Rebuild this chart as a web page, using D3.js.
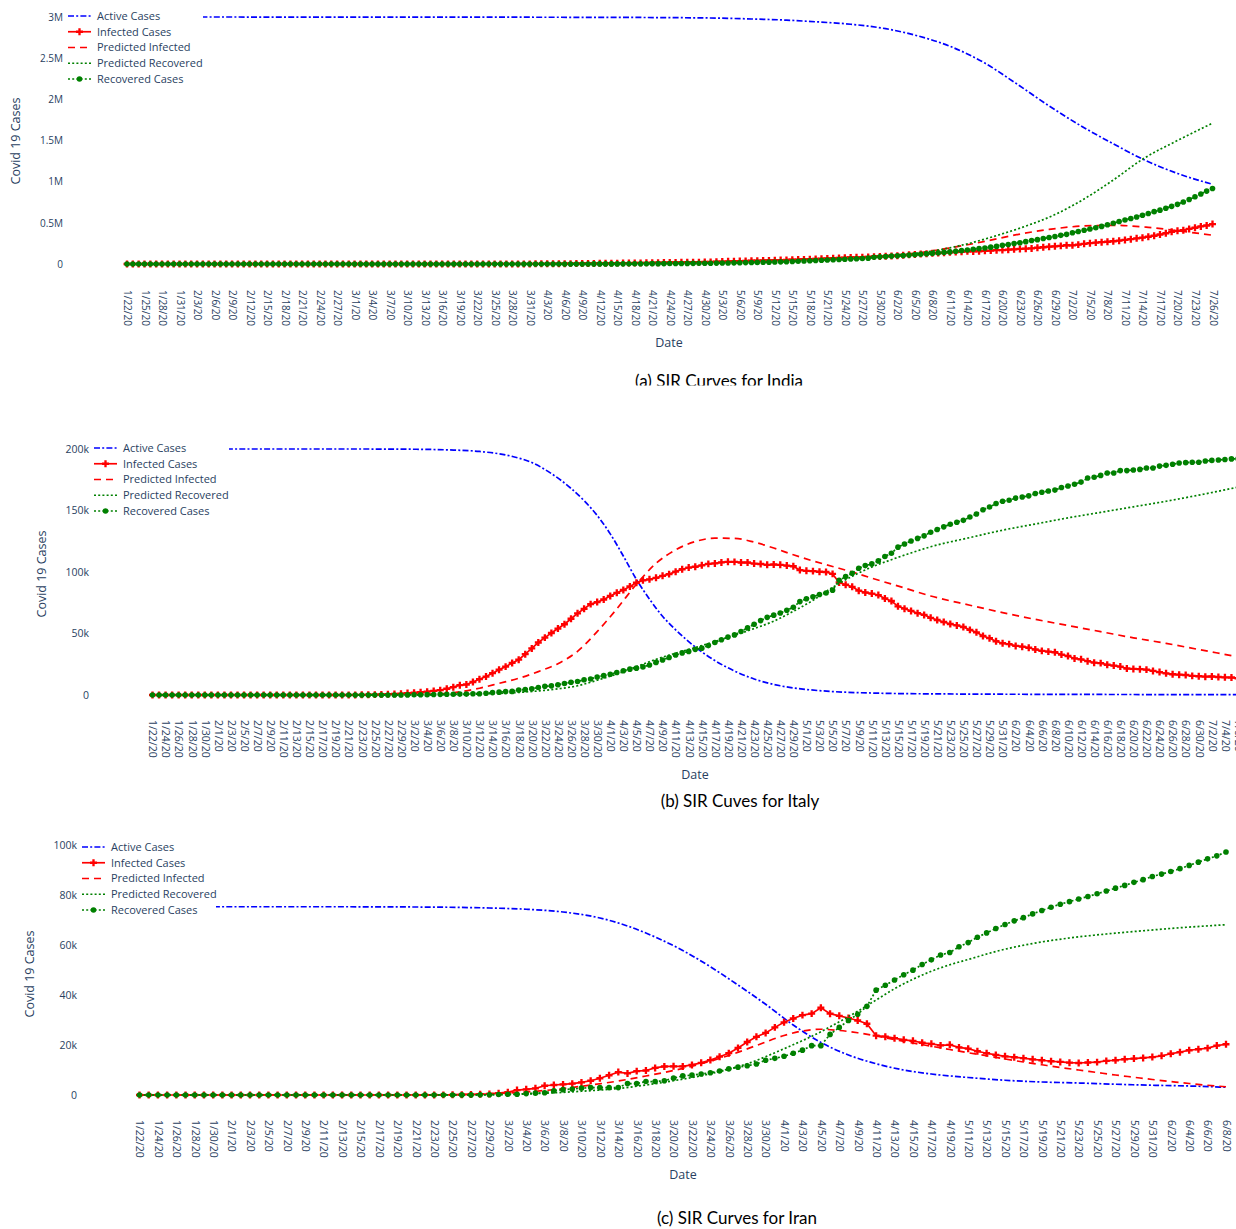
<!DOCTYPE html>
<html>
<head>
<meta charset="utf-8">
<script src="https://cdn.jsdelivr.net/npm/d3@7"></script>
<style>
  body { margin: 0; background: #fff; }
  svg { display: block; }
</style>
</head>
<body>
<svg id="chart" width="1236" height="1229"></svg>
<script>
// ---------- data (values in thousands) ----------

// date categories: start/end of each consecutive run
const indiaDateRuns = [["1/22/20", "7/26/20"]];
const italyDateRuns = [["1/22/20", "7/6/20"]];
const iranDateRuns = [["1/22/20", "4/20/20"], ["5/11/20", "6/8/20"]];

const legendNames = ["Active Cases", "Infected Cases", "Predicted Infected", "Predicted Recovered", "Recovered Cases"];

const indiaYTicks = [0, 500, 1000, 1500, 2000, 2500, 3000];
const indiaYLabels = ["0", "0.5M", "1M", "1.5M", "2M", "2.5M", "3M"];
const italyYTicks = [0, 50, 100, 150, 200];
const italyYLabels = ["0", "50k", "100k", "150k", "200k"];
const iranYTicks = [0, 20, 40, 60, 80, 100];
const iranYLabels = ["0", "20k", "40k", "60k", "80k", "100k"];

// India, one value per day
const indiaInfected = [
  0,0,0,0,0,0,0,0,0,0, 0,0,0,0,0,0,0,0,0,0, 0,0,0,0,0,0,0,0,0,0, 0,0,0,0,0,0,0,0,0,
  0, 0.002, 0.003, 0.025, 0.027, 0.028, 0.031, 0.036, 0.04, 0.05, 0.06, 0.063, 0.07, 0.08, 0.1, 0.11,
  0.123, 0.134, 0.176, 0.22, 0.3, 0.365, 0.42, 0.47, 0.6, 0.64, 0.8, 0.88, 0.94, 1.1, 1.24,
  1.85, 2.2, 2.6, 3.1, 3.8, 4.1, 4.6, 5.2, 5.7, 6.5, 7.0, 7.9, 8.5, 9.2, 10.5, 11.2, 11.6, 12.9, 13.3, 14.7,
  15.3, 16.3, 17.3, 18.5, 19.5, 20.5, 21.4, 22.0, 22.6, 24.8,
  25.9, 27.7, 29.3, 32.1, 33.6, 35.9, 37.9, 39.8, 40.9, 42.9, 44.0, 46.0, 47.5, 49.2, 52.8, 53.9,
  56.3, 58.8, 60.9, 63.6, 66.1, 69.6, 73.2, 76.8, 80.0, 80.7, 83.0, 86.4, 89.7, 89.9, 93.3,
  97.6, 101.5, 106.7, 111.9, 116.0, 120.4, 125.4, 129.9, 133.6, 137.5, 141.8, 146.0, 149.4, 153.2, 153.1,
  155.2, 160.4, 163.2, 168.3, 169.5, 174.4, 178.0, 183.0, 186.5, 189.5, 197.4, 203.1, 210.1, 215.1, 220.1,
  227.4, 226.9, 235.4, 244.8, 253.3, 259.6, 264.9, 269.8, 276.7, 283.4, 292.3, 301.6, 311.6, 319.8, 331.1,
  342.8, 358.7, 373.4, 390.5, 402.5, 411.1, 426.2, 440.1, 456.1, 467.9, 485.1
];
const indiaRecovered = [
  0,0,0,0,0,0,0,0,0,0, 0,0,0,0,0,0,0,0,0,0, 0,0,0,0,0,0,0,0,0,0, 0,0,0,0,0,0,0,0,0,
  0.003, 0.003, 0.003, 0.003, 0.003, 0.003, 0.003, 0.004, 0.004, 0.004, 0.004, 0.004, 0.004, 0.01, 0.013, 0.014,
  0.014, 0.014, 0.015, 0.02, 0.023, 0.027, 0.04, 0.043, 0.045, 0.073, 0.084, 0.095, 0.102, 0.123, 0.148,
  0.15, 0.19, 0.23, 0.27, 0.33, 0.35, 0.41, 0.47, 0.6, 0.78, 0.97, 1.0, 1.19, 1.34, 1.43, 1.77, 2.04, 2.46, 2.85, 3.27,
  3.98, 4.37, 5.01, 5.5, 5.94, 6.52, 7.14, 7.75, 8.44, 8.89,
  9.95, 10.9, 11.8, 12.8, 14.1, 15.3, 16.8, 17.9, 19.4, 22.0, 22.5, 24.4, 26.4, 27.9, 30.3, 34.2,
  36.8, 39.2, 42.3, 45.3, 48.5, 51.8, 54.4, 57.7, 60.7, 64.3, 67.7, 71.1, 82.6, 86.9, 91.9,
  95.8, 100.3, 104.1, 108.4, 113.2, 118.7, 123.8, 129.1, 134.7, 141.0, 147.2, 154.3, 162.4, 169.8, 180.0,
  186.9, 194.3, 204.7, 213.8, 227.7, 237.2, 248.2, 258.7, 271.7, 285.6, 295.9, 309.7, 321.7, 334.8, 347.9,
  359.9, 379.9, 394.2, 409.1, 424.4, 439.9, 456.8, 476.4, 495.5, 515.4, 534.6, 553.5, 571.5, 592.0, 612.8,
  635.8, 653.8, 677.4, 700.1, 724.6, 753.0, 782.6, 817.2, 849.4, 885.6, 917.6
];
// model curves: [day index, value]
const indiaActiveCurve = [[0, 3000], [40, 2999], [80, 2996], [100, 2988], [107, 2976], [113, 2962], [118, 2942],
  [124, 2912], [130, 2858], [135, 2780], [141, 2645], [147, 2440], [152, 2210], [158, 1920], [164, 1655],
  [169, 1460], [174, 1275], [180, 1100], [186, 968]];
const indiaPredInfected = [[0, 0], [60, 0.5], [80, 5], [95, 18], [105, 34], [115, 58], [125, 85], [131, 108],
  [136, 140], [141, 195], [147, 275], [152, 350], [158, 420], [164, 462], [169, 470], [175, 445], [181, 395], [186, 350]];
const indiaPredRecovered = [[0, 0], [70, 0.5], [90, 4], [100, 10], [110, 24], [120, 48], [128, 80], [134, 120],
  [139, 170], [144, 245], [149, 345], [154, 460], [159, 600], [164, 790], [169, 1020], [174, 1272], [180, 1500], [186, 1710]];

// Italy, one value per day
const italyInfected = [
  0,0,0,0,0,0,0,0,0,0, 0,0,0,0,0,0,0,0,0,0, 0,0,0,0,0,0,0,0,0,0,
  0.02, 0.06, 0.15, 0.22, 0.31, 0.41, 0.59, 0.82, 1.05,
  1.58, 1.84, 2.26, 2.71, 3.30, 3.92, 5.06, 6.39, 7.99, 8.51, 10.59, 12.84, 14.96, 17.75, 20.60, 23.07,
  26.06, 28.71, 33.19, 37.86, 42.68, 46.64, 50.42, 54.03, 57.52, 62.01, 66.41, 70.07, 73.88, 75.53, 77.64,
  80.57, 83.05, 85.39, 88.27, 91.25, 93.19, 94.07, 95.26, 96.88, 98.27, 100.27, 102.25, 103.62, 104.29, 105.42,
  106.61, 106.96, 107.77, 108.26, 108.24, 107.71, 107.70, 106.85, 106.53, 105.85, 106.10, 105.81, 105.21, 104.66, 101.55,
  100.94, 100.70, 100.18, 99.98, 98.47, 91.53, 89.62, 87.96, 84.84, 83.32, 82.49, 81.27, 78.46, 76.44, 72.07, 70.19,
  68.35, 66.55, 65.13, 62.75, 60.96, 59.32, 57.75, 56.59, 55.30, 52.94, 50.97, 47.99, 46.18, 43.69, 42.08,
  41.37, 39.89, 39.30, 38.43, 36.98, 35.88, 35.26, 34.73, 32.87, 31.71, 29.71, 29.00, 27.49, 26.27, 25.91,
  24.57, 23.93, 23.10, 21.54, 21.21, 20.97, 20.64, 19.57, 18.66, 17.64, 16.84, 16.50, 16.25, 15.56, 15.26,
  14.88, 15.06, 14.62, 14.36, 14.24, 13.60
];
const italyRecovered = [
  0,0,0,0,0,0,0,0,0,0, 0,0,0,0,0,0,0,0,0,0, 0,0,0,0,0,0,0,0,0,0, 0,
  0.001, 0.002, 0.001, 0.003, 0.045, 0.046, 0.046, 0.05,
  0.083, 0.149, 0.16, 0.276, 0.414, 0.523, 0.589, 0.622, 0.724, 0.724, 1.045, 1.045, 1.439, 1.966, 2.335, 2.749,
  2.941, 4.025, 4.44, 5.129, 6.072, 7.024, 7.432, 8.326, 9.362, 10.361, 10.95, 12.384, 13.03, 14.62, 15.729,
  16.847, 18.278, 19.758, 20.996, 21.815, 22.837, 24.392, 26.491, 28.47, 30.455, 32.534, 34.211, 35.435, 37.13, 38.092,
  40.164, 42.727, 44.927, 47.055, 48.877, 51.6, 54.543, 57.576, 60.498, 63.12, 64.928, 66.624, 68.941, 71.252, 75.945,
  78.249, 79.914, 81.654, 82.879, 85.231, 93.245, 96.276, 99.023, 103.031, 105.186, 106.587, 109.039, 112.541, 115.288,
  120.205, 122.81, 125.176, 127.326, 129.401, 132.282, 134.56, 136.72, 138.84, 140.479, 141.981, 144.658, 147.101,
  150.604, 152.844, 155.633, 157.507,
  158.355, 160.092, 160.938, 161.895, 163.781, 164.849, 165.837, 166.584, 168.646, 169.939, 171.338, 173.085, 176.37,
  177.01, 178.526, 180.544, 180.544, 182.453, 182.453, 182.893, 183.426, 184.585, 184.585, 186.111, 186.725, 187.615,
  188.584, 188.891, 189.196, 189.196,
  190.248, 190.717, 191.083, 191.467, 191.944, 192.108
];
const italyActiveCurve = [[0, 200], [30, 200], [40, 199.8], [45, 199.3], [50, 198], [55, 194], [58, 189], [61, 180],
  [64, 168], [66, 158], [68, 146], [70, 131], [72, 113], [74, 94], [76, 78], [78, 64], [80, 53], [83, 39], [86, 28],
  [89, 19.5], [92, 13], [96, 7.5], [100, 4.5], [104, 2.8], [110, 1.6], [120, 0.9], [140, 0.5], [166, 0.3]];
const italyPredInfected = [[0, 0], [35, 0.1], [40, 0.5], [45, 1.4], [50, 5.5], [53, 9.5], [56, 13.6], [59, 19],
  [62, 25.5], [65, 35.5], [68, 51.5], [71, 70], [74, 90], [77, 107], [80, 118], [83, 124.8], [86, 127.5], [89, 127.3],
  [92, 124.3], [95, 119.5], [98, 114], [101, 109], [104, 104.5], [107, 100], [110, 95], [115, 87], [119, 80.5],
  [125, 73], [130, 67], [135, 61.5], [140, 56.5], [145, 51.5], [150, 46.5], [155, 42], [160, 37], [166, 31]];
const italyPredRecovered = [[0, 0], [40, 0.1], [45, 0.3], [50, 0.8], [55, 1.8], [59, 3.3], [62, 5], [65, 7.5],
  [68, 12], [71, 17], [74, 23], [77, 29], [80, 34], [83, 38.5], [86, 43.5], [89, 48.5], [92, 54], [95, 60], [98, 68],
  [101, 77], [104, 87.5], [107, 96.5], [110, 104], [113, 110], [116, 115.5], [119, 120.5], [125, 128], [130, 134],
  [135, 139], [140, 144], [145, 148.5], [150, 153], [155, 157.5], [160, 162.5], [166, 169]];

// Iran, one value per category
const iranInfected = [
  0,0,0,0,0,0,0,0,0,0, 0,0,0,0,0,0,0,0,0,0, 0,0,0,0,0,0,0,0,0,
  0.003, 0.014, 0.023, 0.035, 0.049, 0.076, 0.113, 0.204, 0.317, 0.427,
  0.749, 1.144, 1.968, 2.278, 2.667, 3.71, 4.009, 4.238, 4.53, 5.02, 5.687, 6.687, 7.891, 9.159, 8.624, 9.548,
  9.792, 10.837, 11.413, 11.466, 11.419, 12.022, 12.861, 13.964, 15.315, 16.715, 18.821, 21.212, 23.278, 24.827, 27.051,
  29.084, 30.597, 31.954, 32.555, 34.887, 32.525, 31.678, 30.781, 29.801, 28.495, 23.725, 23.318, 22.735, 22.065,
  21.679, 20.897, 20.472, 19.85, 20.07, 19.023,
  18.54, 17.492, 16.702, 16.021, 15.485, 15.114, 14.733, 14.268, 13.909, 13.509, 13.237, 12.942, 12.799, 12.991,
  13.155, 13.645, 13.905, 14.313, 14.567, 14.82, 15.179, 15.677, 16.514, 17.14, 17.897, 18.308, 18.746, 19.774, 20.311
];
const iranRecovered = [
  0,0,0,0,0,0,0,0,0,0, 0,0,0,0,0,0,0,0,0,0, 0,0,0,0,0,0,0,0,0,0, 0,0,0,0,0,
  0.049, 0.049, 0.073, 0.123,
  0.175, 0.291, 0.291, 0.552, 0.739, 0.913, 1.669, 2.134, 2.394, 2.731, 2.959, 2.959, 2.959, 2.959, 4.59, 4.59,
  5.389, 5.389, 5.71, 6.745, 7.635, 7.931, 8.376, 8.913, 9.625, 10.457, 11.133, 11.679, 12.391, 13.911, 14.656,
  15.473, 16.711, 17.935, 19.736, 19.736, 24.236, 27.039, 29.812, 32.309, 35.465, 41.947, 43.894, 45.983, 48.129,
  49.933, 52.229, 54.064, 55.987, 57.023, 59.273,
  60.965, 63.113, 64.843, 66.599, 68.193, 69.657, 70.933, 72.439, 73.791, 75.103, 76.318, 77.35, 78.422, 79.379,
  80.475, 81.587, 82.744, 83.837, 85.064, 86.143, 87.422, 88.357, 89.428, 90.539, 91.836, 93.147, 94.464, 95.661, 97.173
];
const iranActiveCurve = [[0, 75.3], [20, 75.3], [30, 75.2], [38, 74.8], [42, 74.3], [46, 73.2], [50, 70.8], [53, 67.6],
  [56, 63.2], [59, 57.8], [62, 51.3], [65, 44], [68, 36.3], [71, 28], [74, 21], [77, 16], [80, 12.5], [83, 10],
  [86, 8.4], [90, 7], [94, 5.9], [98, 5.2], [102, 4.8], [106, 4.3], [110, 3.9], [114, 3.6], [118, 3.1]];
const iranPredInfected = [[0, 0], [30, 0.05], [36, 0.3], [40, 0.8], [44, 1.8], [48, 3.5], [52, 5.6], [55, 7.6],
  [58, 9.8], [61, 12.5], [64, 15.8], [67, 19.8], [70, 23.8], [72, 25.6], [74, 26.3], [76, 25.8], [78, 24.9], [80, 23.6],
  [82, 22.2], [84, 20.8], [86, 19.5], [88, 18.2], [90, 16.9], [92, 15.7], [94, 14.4], [96, 13.2], [98, 12.1], [100, 11],
  [102, 10], [104, 9], [106, 8], [108, 7.1], [110, 6.2], [112, 5.4], [114, 4.6], [116, 3.9], [118, 3.3]];
const iranPredRecovered = [[0, 0], [36, 0.05], [40, 0.2], [44, 0.7], [48, 1.5], [52, 2.6], [55, 4], [58, 5.7],
  [62, 8.5], [66, 12.5], [70, 18.5], [74, 25.3], [76, 29.3], [78, 33.5], [80, 38], [82, 42.5], [84, 46.3], [86, 49.5],
  [88, 52.1], [90, 54.2], [93, 57.4], [97, 60.6], [101, 62.8], [105, 64.4], [109, 65.7], [113, 66.9], [118, 68.1]];

// ---------- styling ----------
const FONT = "'Open Sans', verdana, arial, sans-serif";
const INK = "#2a3f5f";
const BLUE = "rgb(0,0,255)", RED = "rgb(255,0,0)", GREEN = "rgb(0,128,0)";
const LW = 1.7;
const DASHDOT = "6,2.2,2,2.2", DASH = "7,5", DOT = "2,2.2";

const parseDate = d3.timeParse("%m/%d/%y");
const fmtDate = d => `${d.getMonth() + 1}/${d.getDate()}/${String(d.getFullYear()).slice(2)}`;
function dateCats(runs) {
  return runs.flatMap(([a, b]) =>
    d3.timeDay.range(parseDate(a), d3.timeDay.offset(parseDate(b), 1)).map(fmtDate));
}

const panels = [
  {
    cats: dateCats(indiaDateRuns), tickStep: 3, xRange: [127, 1212.5], yRange: [264, 17],
    yTicks: indiaYTicks, yLabels: indiaYLabels, yLabelX: 63, yTitle: [20, 141],
    xLabelY: 290, tickFont: 10, dateXY: [669, 347],
    caption: "(a) SIR Curves for India", capXY: [719, 387], capClip: 385.5,
    legend: { x: 68, y: 16, textX: 97, right: 203 },
    active: indiaActiveCurve, infected: indiaInfected, predInf: indiaPredInfected,
    predRec: indiaPredRecovered, recovered: indiaRecovered, yMax: 3000
  },
  {
    cats: dateCats(italyDateRuns), tickStep: 2, xRange: [152.5, 1238], yRange: [695, 449],
    yTicks: italyYTicks, yLabels: italyYLabels, yLabelX: 89, yTitle: [46, 574],
    xLabelY: 720, tickFont: 10.5, dateXY: [695, 779],
    caption: "(b) SIR Cuves for Italy", capXY: [740, 807],
    legend: { x: 94, y: 448, textX: 123, right: 229 },
    active: italyActiveCurve, infected: italyInfected, predInf: italyPredInfected,
    predRec: italyPredRecovered, recovered: italyRecovered, yMax: 200
  },
  {
    cats: dateCats(iranDateRuns), tickStep: 2, xRange: [139.5, 1226], yRange: [1095, 845],
    yTicks: iranYTicks, yLabels: iranYLabels, yLabelX: 77, yTitle: [34, 974],
    xLabelY: 1120, tickFont: 10.5, dateXY: [683, 1179],
    caption: "(c) SIR Curves for Iran", capXY: [737, 1224],
    legend: { x: 82, y: 847, textX: 111, right: 216 },
    active: iranActiveCurve, infected: iranInfected, predInf: iranPredInfected,
    predRec: iranPredRecovered, recovered: iranRecovered, yMax: 100
  }
];

const svg = d3.select("#chart");
const crossPath = d3.symbol(d3.symbolCross, 27)();

function drawPanel(p, k) {
  const g = svg.append("g").attr("class", "panel-" + k);
  const x = d3.scalePoint().domain(p.cats).range(p.xRange);
  const y = d3.scaleLinear().domain([0, p.yMax]).range(p.yRange);

  // y axis
  const yAxis = d3.axisLeft(y).tickValues(p.yTicks)
    .tickFormat((d, i) => p.yLabels[i]).tickSize(0).tickPadding(0);
  const ya = g.append("g").attr("transform", `translate(${p.yLabelX},0)`).call(yAxis);
  ya.select(".domain").remove();
  ya.selectAll("text").attr("fill", INK).style("font-family", FONT).style("font-size", p.tickFont + "px");

  // x axis, rotated labels
  const xAxis = d3.axisBottom(x).tickValues(p.cats.filter((d, i) => i % p.tickStep === 0)).tickSize(0);
  const xa = g.append("g").attr("transform", `translate(0,${p.xLabelY})`).call(xAxis);
  xa.select(".domain").remove();
  xa.selectAll("text")
    .attr("transform", "rotate(90)").attr("x", 0).attr("y", 0).attr("dy", "0.35em")
    .style("text-anchor", "start").attr("fill", INK)
    .style("font-family", FONT).style("font-size", p.tickFont + "px");

  // titles
  g.append("text").attr("transform", `translate(${p.yTitle[0]},${p.yTitle[1]}) rotate(-90)`)
    .attr("text-anchor", "middle").attr("fill", INK)
    .style("font-family", FONT).style("font-size", "12.5px").text("Covid 19 Cases");
  g.append("text").attr("x", p.dateXY[0]).attr("y", p.dateXY[1]).attr("text-anchor", "middle")
    .attr("fill", INK).style("font-family", FONT).style("font-size", "12.5px").text("Date");

  const cap = g.append("text").attr("x", p.capXY[0]).attr("y", p.capXY[1]).attr("text-anchor", "middle")
    .attr("fill", "#000").style("font-family", "Lato, 'Open Sans', sans-serif").style("font-size", "17px")
    .text(p.caption);
  if (p.capClip) {
    svg.append("clipPath").attr("id", "capclip" + k).append("rect")
      .attr("x", 0).attr("y", 0).attr("width", 1236).attr("height", p.capClip);
    cap.attr("clip-path", `url(#capclip${k})`);
  }

  const daily = d3.line().x((d, i) => x(p.cats[i])).y(d => y(d));
  const curve = d3.line().x(d => x(p.cats[d[0]])).y(d => y(d[1])).curve(d3.curveMonotoneX);

  // Active Cases
  g.append("path").attr("d", curve(p.active)).attr("fill", "none")
    .attr("stroke", BLUE).attr("stroke-width", LW).attr("stroke-dasharray", DASHDOT);

  // Infected Cases (line + crosses)
  g.append("path").attr("d", daily(p.infected)).attr("fill", "none")
    .attr("stroke", RED).attr("stroke-width", LW);
  g.append("g").selectAll("path").data(p.infected).join("path")
    .attr("d", crossPath).attr("fill", RED)
    .attr("transform", (d, i) => `translate(${x(p.cats[i])},${y(d)})`);

  // Predicted Infected
  g.append("path").attr("d", curve(p.predInf)).attr("fill", "none")
    .attr("stroke", RED).attr("stroke-width", LW).attr("stroke-dasharray", DASH);

  // Predicted Recovered
  g.append("path").attr("d", curve(p.predRec)).attr("fill", "none")
    .attr("stroke", GREEN).attr("stroke-width", LW).attr("stroke-dasharray", DOT);

  // Recovered Cases (dotted line + dots)
  g.append("path").attr("d", daily(p.recovered)).attr("fill", "none")
    .attr("stroke", GREEN).attr("stroke-width", LW).attr("stroke-dasharray", DOT);
  g.append("g").selectAll("circle").data(p.recovered).join("circle")
    .attr("cx", (d, i) => x(p.cats[i])).attr("cy", d => y(d)).attr("r", 2.8).attr("fill", GREEN);

  // legend
  const L = p.legend, rowH = 15.75;
  const lg = g.append("g");
  lg.append("rect").attr("x", L.x - 3).attr("y", L.y - 9)
    .attr("width", L.right - L.x + 3).attr("height", rowH * 4 + 18).attr("fill", "#fff");
  const styles = [
    { c: BLUE, dash: DASHDOT }, { c: RED, dash: null, m: "cross" }, { c: RED, dash: DASH },
    { c: GREEN, dash: DOT }, { c: GREEN, dash: DOT, m: "circle" }
  ];
  legendNames.forEach((name, i) => {
    const cy = L.y + i * rowH, s = styles[i];
    lg.append("line").attr("x1", L.x).attr("x2", L.x + 23).attr("y1", cy).attr("y2", cy)
      .attr("stroke", s.c).attr("stroke-width", LW).attr("stroke-dasharray", s.dash);
    if (s.m === "cross") lg.append("path").attr("d", crossPath).attr("fill", s.c)
      .attr("transform", `translate(${L.x + 11.5},${cy})`);
    if (s.m === "circle") lg.append("circle").attr("cx", L.x + 11.5).attr("cy", cy).attr("r", 2.8).attr("fill", s.c);
    lg.append("text").attr("x", L.textX).attr("y", cy).attr("dy", "0.35em").attr("fill", INK)
      .style("font-family", FONT).style("font-size", "11px").text(name);
  });
}

panels.forEach(drawPanel);
</script>
</body>
</html>
